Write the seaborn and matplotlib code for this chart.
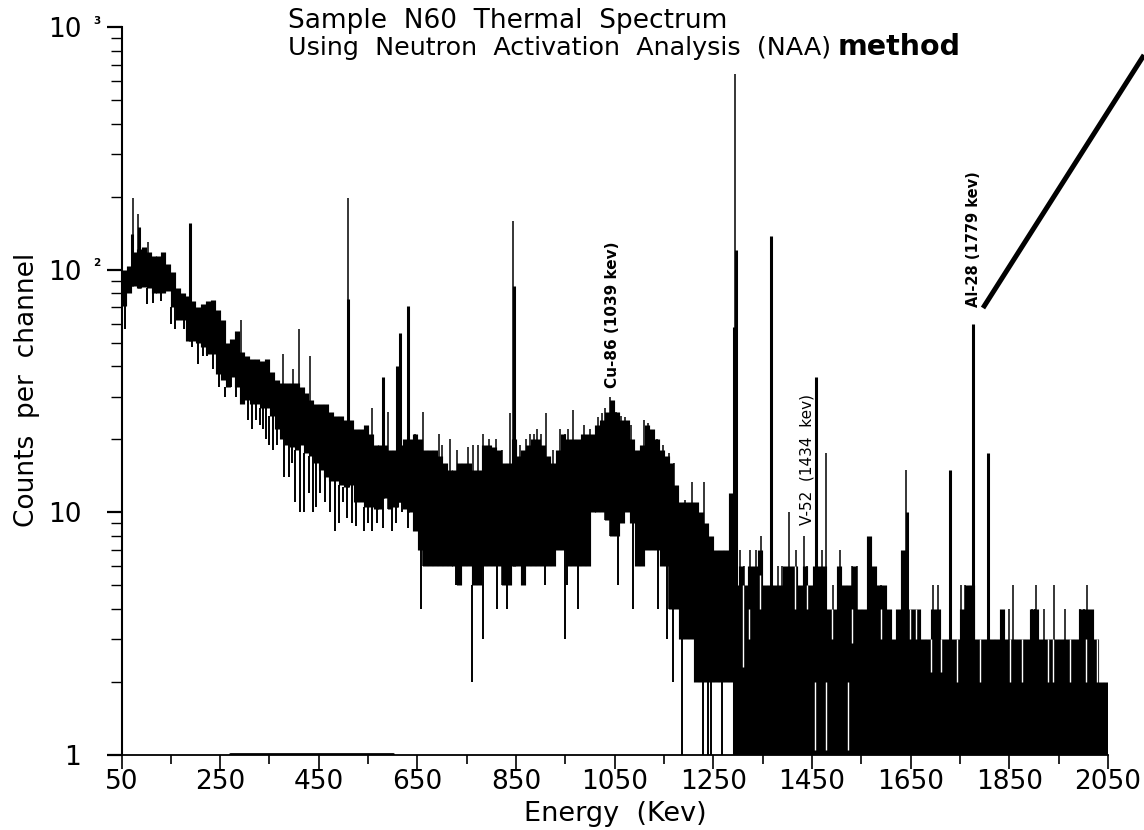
import numpy as np
import pandas as pd
import matplotlib
matplotlib.use("Agg")
import matplotlib.pyplot as plt
from matplotlib.lines import Line2D
from matplotlib.ticker import LogLocator, NullFormatter
import seaborn as sns

# dense part of the spectrum, one pair of values per 10 Kev starting at 55 Kev
band_high = [100, 104, 118, 122, 124, 118, 114, 114, 118, 106, 98, 84, 80, 78, 74, 70, 72, 74, 75, 68,
             62, 50, 52, 56, 46, 44, 43, 43, 42, 43, 38, 35, 34, 34, 34, 34, 33, 31, 29, 28,
             28, 28, 26, 25, 25, 24, 24, 22, 22, 23, 21, 19, 19, 19, 18, 18, 19, 20, 20, 21,
             20, 18, 18, 18, 17, 16, 15, 15, 16, 16, 16, 15, 15,
             19, 19, 18.5, 18, 16, 16, 20, 17, 18, 19, 20, 20, 19, 17, 16, 18, 21, 20, 20, 20,
             21, 21, 21, 23, 24, 26, 29, 26, 24, 24, 20, 18, 19, 23, 22, 20, 18, 17, 16,
             13, 11, 11, 11, 11, 10, 9, 8, 7, 7, 7, 12,
             5, 6, 5, 6, 6, 7, 5, 5, 5, 5, 6, 6, 6, 5, 6, 5, 6, 6, 6, 4, 4,
             6, 5, 5, 6, 4, 4, 8, 6, 5, 5, 4, 3, 4, 7, 4, 4, 4, 3, 3, 4, 4, 3, 3, 3, 3, 4, 5, 5,
             3, 3, 3, 3, 3, 4, 3, 3, 3, 3, 3, 4, 4, 3, 3, 3, 3, 3, 3, 3, 3, 4, 4, 4, 3, 2, 2]
band_low = [71, 80, 86, 84, 85, 84, 80, 80, 80, 82, 70, 62, 62, 51, 51, 50, 48, 45, 45, 37,
            35, 33, 36, 33, 28, 29, 28, 28, 27, 27, 25, 22, 20, 19, 18.5, 18, 19, 17.5, 17, 16,
            15, 14, 13.5, 13.5, 13, 12.7, 13, 11, 11, 10.5, 10.5, 10.3, 10.3, 11.5, 10.3, 10.5, 11, 10.3, 10, 8.4,
            7, 6, 6, 6, 6, 6, 6, 6, 5, 6, 6, 5, 5,
            6, 6, 6, 6, 5, 5, 6, 6, 5, 6, 6, 6, 6, 6, 6, 7, 7, 6, 6, 6,
            6, 6, 10, 10, 10, 9.3, 8, 8, 9, 10, 9, 6, 6, 7, 7, 7, 6, 6, 4,
            4, 3, 3, 3, 2, 2, 2, 2, 2, 2, 2, 2] + [1] * 76

# single thin lines above the band
spike_energy = [73, 83, 104, 293, 378, 397, 410, 432, 509, 557, 591, 645, 662, 694, 844,
                837, 886, 911, 949, 966, 1017, 1025, 1040, 1052, 1070, 1118, 1136, 1148, 1171,
                1192, 1206, 1231, 1293, 1303, 1325, 1347, 1403, 1433, 1479, 1506, 1640,
                1858, 1905, 1940, 2008,
                700, 715, 730, 752, 763, 772, 783, 795, 810, 822, 858, 870, 878, 892, 900, 925, 940, 955,
                988, 1000, 1030, 1062, 1082, 1110, 1130, 1160,
                1312, 1337, 1380, 1390, 1417, 1440, 1470, 1492, 1530, 1541, 1590, 1696, 1706, 1752, 1761,
                1849, 1895, 1903, 1920, 1963, 1993, 2001]
spike_high = [198, 170, 130, 62, 45, 39, 57, 44, 198, 27, 26, 21, 26, 21, 159,
              25.6, 21, 25.6, 21, 26.5, 24.6, 25.6, 30, 26, 24.6, 23.4, 20, 19, 16,
              11.2, 13.3, 13.3, 640, 7, 7, 8, 10, 8, 17.5, 7, 15,
              5, 5, 5, 5,
              19, 20, 18, 18.5, 19, 19, 21, 20, 20, 18, 19, 20, 21, 22, 21, 18, 22, 22,
              23, 22, 27, 25, 23, 24, 21, 17.5,
              6, 7, 6, 6, 7, 6, 7, 5, 6, 6, 5, 5, 5, 5, 5,
              4, 4, 4, 4, 4, 4, 4]

# the strong peaks, drawn heavier
peak_energy = [71, 86, 189, 509, 581, 608, 615, 631, 846, 1291, 1295, 1366, 1458, 1642, 1729, 1776, 1806]
peak_high = [140, 150, 155, 76, 36, 40, 55, 71, 86, 58, 120, 138, 36, 10, 15, 60, 17.5]

# thin lines below the band
dip_energy = [57, 101, 114, 131, 158, 176, 205, 223, 236, 260, 273, 294, 307, 315, 330, 343, 358, 379,
              402, 412, 420, 439, 452, 472, 483, 500, 517, 541, 558, 568, 598, 619, 658, 729, 760,
              773, 783, 811, 831, 861, 908, 949, 954, 976, 1057, 1088, 1138, 1155, 1169, 1186, 1216,
              1229, 1240, 1246, 1267,
              150, 192, 215, 248, 283, 322, 337, 350, 365, 389, 395, 430, 445, 462, 490, 508, 525, 550,
              580, 606, 630, 640]
dip_low = [57, 72, 73, 74, 57, 57, 41, 44, 39, 30, 33, 28, 24, 22, 23, 20, 18, 14,
           11, 10, 10, 10, 12, 10, 8.4, 11, 9, 8.4, 8.4, 9, 8.4, 10, 4, 5, 2,
           5, 3, 4, 4, 5, 5, 3, 5, 4, 5, 4, 4, 3, 2, 1, 2,
           1, 1, 1, 1,
           60, 48, 44, 33, 30, 24, 22, 19, 19, 14, 16, 12, 10.5, 11, 9, 9.5, 8.8, 9,
           8.6, 9, 8.6, 8.4]

# white slits cut through the solid block
gap_energy = [1309, 1322, 1455, 1479, 1522, 1344, 1416, 1440, 1490, 1530, 1590, 1648, 1660, 1692, 1712,
              1743, 1790, 1851, 1875, 1929, 1939, 1973, 2006, 2027]
gap_low = [2.3, 3, 1.05, 1.05, 1.05, 4, 4, 4, 3, 2.9, 3, 3, 3, 2.2, 2.2,
           2, 2, 2, 2, 2, 2, 2, 2, 2]
gap_high = [5, 4, 2, 2, 2, 5.5, 6, 5, 4, 4, 4, 4, 4, 3, 3,
            3, 3, 3, 3, 3, 3, 3, 3, 3]

# short stretch where the trace lies on the axis
floor_energy = [270, 600]
floor_counts = [1.01, 1.01]

x_major = [50, 250, 450, 650, 850, 1050, 1250, 1450, 1650, 1850, 2050]
x_minor = [150, 350, 550, 750, 950, 1150, 1350, 1550, 1750, 1950]
y_major = [1, 10, 100, 1000]
y_labels = ["1", "10", "10", "10"]

band_energy = np.arange(55, 2050, 10)


def nearest_bin(energy):
    return int(min((energy - 50) // 10, len(band_low) - 1))


def draw_lines(ax, energy, low, high, width, color="black"):
    # every mark is a vertical line between two count values
    frame = pd.DataFrame({
        "unit": list(range(len(energy))) * 2,
        "energy": list(energy) * 2,
        "counts": list(low) + list(high),
    })
    sns.lineplot(data=frame, x="energy", y="counts", units="unit", estimator=None,
                 color=color, lw=width, solid_capstyle="butt", legend=False, ax=ax)


sns.set_style("ticks", {"text.color": "black", "axes.labelcolor": "black", "xtick.color": "black",
                        "ytick.color": "black", "axes.edgecolor": "black"})
plt.rcParams["font.family"] = ["DejaVu Sans"]

fig = plt.figure(figsize=(11.44, 8.3), dpi=100)
ax = fig.add_axes([121.5 / 1144, 75 / 830, 986.5 / 1144, 728 / 830])
ax.set_yscale("log")

draw_lines(ax, band_energy, band_low, band_high, 3.7)
draw_lines(ax, spike_energy, [band_low[nearest_bin(e)] for e in spike_energy], spike_high, 1.1)
draw_lines(ax, peak_energy, [band_low[nearest_bin(e)] for e in peak_energy], peak_high, 2.2)
draw_lines(ax, dip_energy, dip_low, [band_low[nearest_bin(e)] for e in dip_energy], 1.4)
draw_lines(ax, gap_energy, gap_low, gap_high, 1.0, color="white")
sns.lineplot(x=floor_energy, y=floor_counts, color="black", lw=2, legend=False, ax=ax)

ax.set_xlim(50, 2050)
ax.set_ylim(1, 1000)
ax.set_xticks(x_major)
ax.set_xticks(x_minor, minor=True)
ax.set_yticks(y_major)
ax.set_yticklabels(y_labels)
ax.yaxis.set_minor_locator(LogLocator(base=10, subs=range(2, 10)))
ax.yaxis.set_minor_formatter(NullFormatter())

ax.tick_params(axis="x", which="major", length=10, width=1.2, labelsize=19, pad=0)
ax.tick_params(axis="x", which="minor", length=6.5, width=1.2)
ax.tick_params(axis="y", which="major", length=11, width=1.6, labelsize=19, pad=18)
ax.tick_params(axis="y", which="minor", length=8, width=1.0)
ax.set_xlabel("Energy  (Kev)", fontsize=19.5)
ax.set_ylabel("Counts  per  channel", fontsize=19)
ax.xaxis.set_label_coords((615 - 121.5) / 986.5, -46 / 728)
ax.yaxis.set_label_coords((40 - 121.5) / 986.5, (755 - 390) / 728)
sns.despine(ax=ax)
ax.spines["left"].set_linewidth(1.5)
ax.spines["bottom"].set_linewidth(1.3)

# peak labels sit just above their peaks
ax.text(1046, 32.4, "Cu-86 (1039 kev)", rotation=90, ha="center", va="bottom", fontsize=11, fontweight="bold")
ax.text(1440, 8.9, "V-52  (1434  kev)", rotation=90, ha="center", va="bottom", fontsize=11)
ax.text(1778, 70, "Al-28 (1779 kev)", rotation=90, ha="center", va="bottom", fontsize=10.5, fontweight="bold")

# exponents of the tick labels
for value, exponent in [(100, "2"), (1000, "3")]:
    ax.annotate(exponent, xy=(0, value), xycoords=("axes fraction", "data"), xytext=(-17.6, 1),
                textcoords="offset points", ha="center", va="bottom", fontsize=7.5, fontweight="bold")

fig.text(288 / 1144, 1 - 28 / 830, "Sample  N60  Thermal  Spectrum", fontsize=19, va="baseline")
fig.text(288 / 1144, 1 - 55 / 830, "Using  Neutron  Activation  Analysis  (NAA)", fontsize=18.3, va="baseline")
fig.text(838 / 1144, 1 - 55 / 830, "method", fontsize=20.5, va="baseline", fontweight="semibold")

# heavy pointer line running off the page
fig.add_artist(Line2D([983 / 1144, 1], [1 - 308 / 830, 1 - 55 / 830], color="black", lw=3.6,
                      solid_capstyle="butt", transform=fig.transFigure))

fig.savefig("out.png", dpi=100)
